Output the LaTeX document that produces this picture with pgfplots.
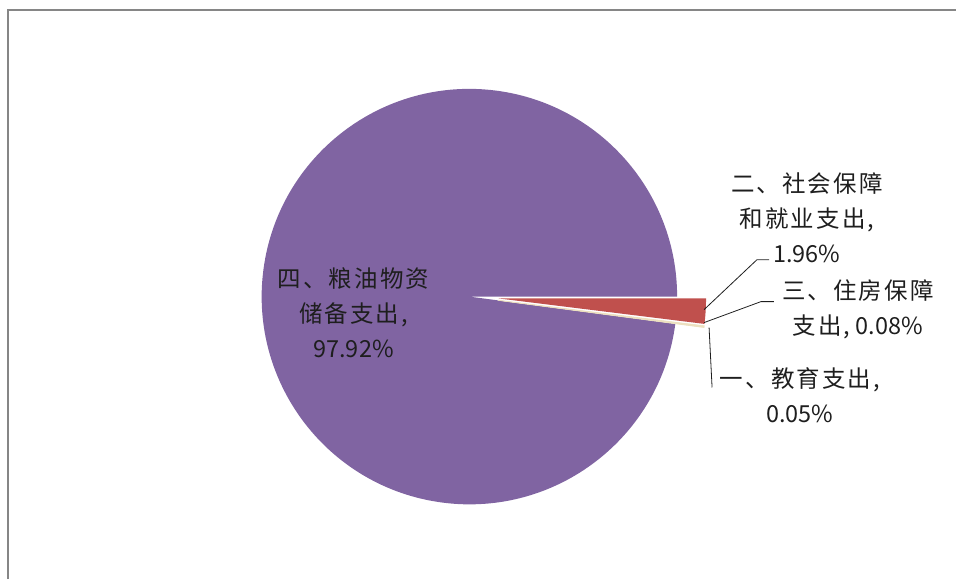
\documentclass[border=0pt]{standalone}
\usepackage{fontspec}
\usepackage{pgfplots}
\usepackage{pgfplotstable}
\pgfplotsset{compat=1.18}
\newfontfamily\cjk{Noto Sans CJK SC}
\newfontfamily\cjkw[LetterSpace=9]{Noto Sans CJK SC}

\definecolor{purpleslice}{RGB}{128,100,162}
\definecolor{redslice}{RGB}{192,80,77}
\definecolor{paleslice}{RGB}{236,224,192}
\definecolor{framegray}{RGB}{134,134,134}
\definecolor{labeltext}{RGB}{30,30,30}

% shares in percent, in clockwise order from 3 o'clock
\pgfplotstableread{
part share
2 1.96
3 0.08
1 0.05
4 97.92
}\sharetable

\begin{document}
\begin{tikzpicture}
% angles of the slice edges (clockwise, degrees)
\pgfplotstablegetelem{0}{share}\of\sharetable \pgfmathsetmacro{\aA}{-3.6*\pgfplotsretval}
\pgfplotstablegetelem{1}{share}\of\sharetable \pgfmathsetmacro{\aB}{\aA-3.6*\pgfplotsretval}
\pgfplotstablegetelem{2}{share}\of\sharetable \pgfmathsetmacro{\aC}{\aB-3.6*\pgfplotsretval}
\pgfmathsetmacro{\mA}{\aA/2}
\pgfmathsetmacro{\mB}{(\aA+\aB)/2}
\pgfmathsetmacro{\mC}{(\aB+\aC)/2}
\def\R{208}
\begin{axis}[
    width=957pt, height=580pt, scale only axis,
    xmin=0, xmax=957, ymin=0, ymax=580,
    hide axis, clip=false,
]
% keep the whole chart area in the picture
\path (axis cs:0,0) rectangle (axis cs:957,580);
% chart frame
\addplot[framegray, line width=2.5pt] coordinates {(8,0) (8,570) (957,570)};

% big slice
\fill[purpleslice] (axis cs:470,283) -- ++(\aC:\R)
    arc[start angle=\aC, end angle=-360, radius=\R] -- cycle;
% exploded small slices
\fill[redslice, shift={(\mA:29)}] (axis cs:470,283) -- ++(0:\R)
    arc[start angle=0, end angle=\aA, radius=\R] -- cycle;
\filldraw[paleslice, line width=0.6pt, shift={(\mB:29)}] (axis cs:470,283) -- ++(\aA:\R)
    arc[start angle=\aA, end angle=\aB, radius=\R] -- cycle;
\filldraw[paleslice, line width=0.6pt, shift={(\mC:29)}] (axis cs:470,283) -- ++(\aB:\R)
    arc[start angle=\aB, end angle=\aC, radius=\R] -- cycle;

% leader lines
\addplot[labeltext, line width=0.8pt] coordinates {(705,270) (758,320) (770,320)};
\addplot[labeltext, line width=0.8pt] coordinates {(705,257) (762,278) (775,278)};
\addplot[labeltext, line width=0.8pt] coordinates {(710,252) (713,192)};

% labels
\tikzset{lbl/.style={align=center, text=labeltext, inner sep=0pt,
    font=\cjk\fontsize{23.5}{35}\selectfont}}
\node[lbl] at (axis cs:354,267) {{\cjkw 四、粮油物资}\\{\cjkw 储备支出,}\\97.92\%};
\node[lbl] at (axis cs:808,362) {{\cjkw 二、社会保障}\\{\cjkw 和就业支出,}\\1.96\%};
\node[lbl] at (axis cs:859,270) {{\cjkw 三、住房保障}\\{\cjkw 支出,} 0.08\%};
\node[lbl] at (axis cs:801,184) {{\cjkw 一、教育支出,}\\0.05\%};
\end{axis}
\end{tikzpicture}
\end{document}
